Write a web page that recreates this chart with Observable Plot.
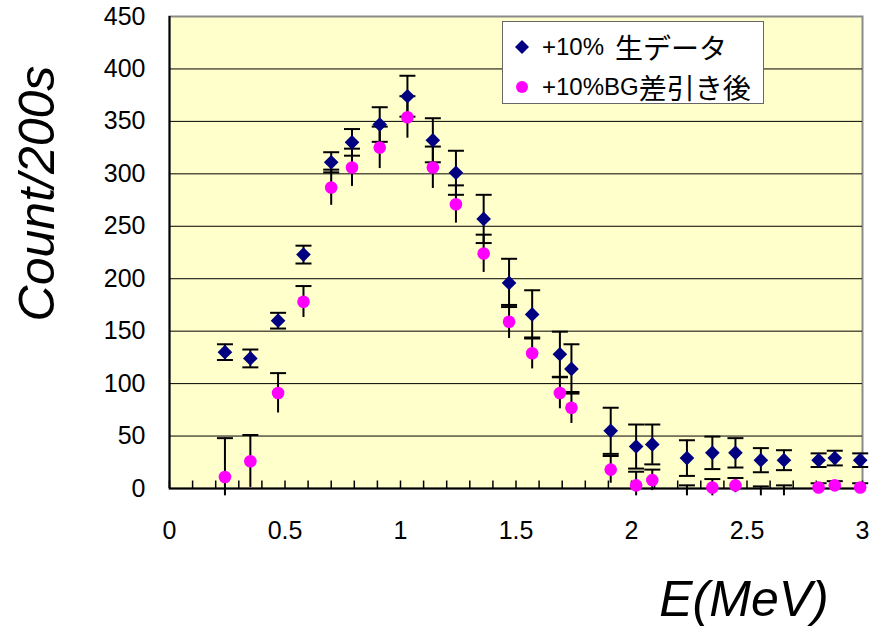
<!DOCTYPE html>
<html>
<head>
<meta charset="utf-8">
<script src="https://cdn.jsdelivr.net/npm/d3@7"></script>
<script src="https://cdn.jsdelivr.net/npm/@observablehq/plot@0.6"></script>
<style>
  body { margin: 0; background: #fff; }
  #wrap { position: relative; width: 870px; height: 630px; overflow: hidden; }
  #legend { position: absolute; left: 502px; top: 21px; width: 262px; height: 83px; background: #fff;
            border: 1px solid #666; box-sizing: border-box; }
  .row { position: absolute; left: 0; height: 36px; display: flex; align-items: center; white-space: nowrap; }
  .row svg { position: absolute; left: 9px; top: 8px; }
  .lbl { position: absolute; left: 39px; top: 0; height: 36px; display: flex; align-items: center; white-space: pre; }
  .lat { font-family: "Liberation Sans", Arial, sans-serif; font-size: 24px; }
  .cjk { font-family: "Noto Sans CJK JP", sans-serif; font-size: 28px; }
  .gap { display: inline-block; width: 11px; }
</style>
</head>
<body>
<div id="wrap"></div>
<script>
// ---- data ----
const energy = [0.24, 0.35, 0.47, 0.58, 0.70, 0.79, 0.91, 1.03, 1.14, 1.24, 1.36, 1.47, 1.57,
                1.69, 1.74, 1.91, 2.02, 2.09, 2.24, 2.35, 2.45, 2.56, 2.66, 2.81, 2.88, 2.99];
const rawCounts = [130, 124, 160, 223, 311, 330, 347, 374, 332, 301, 257, 196, 166,
                   128, 114, 55, 40, 42, 29, 34, 34, 27, 27, 27, 29, 27];
const rawErr = [7.5, 8.5, 7.5, 8.5, 9.6, 12.7, 16.5, 19.5, 21, 21, 23, 23, 23,
                21.5, 23.5, 22, 21, 19, 17, 15.5, 14, 11.5, 9.5, 6.5, 7, 6.5];
const subCounts = [11, 26, 91, 178, 287, 306, 325, 354, 306, 271, 224, 159, 129,
                   91, 77, 18, 3, 8, -10, 1, 3, -10, -8, 1, 3, 1];
const subErr = [37, 25, 19, 15, 17, 18, 20, 20, 20, 18, 18, 16, 15,
                15, 15, 13, 13, 10, 13, 8, 7, 12, 11, 4, 4, 4];
const seriesNames = ["+10% 生データ", "+10%BG差引き後"];
const xTicks = [0, 0.5, 1, 1.5, 2, 2.5, 3];
const xMinorTicks = d3.range(0, 31).map(i => i / 10);
const yTicks = [0, 50, 100, 150, 200, 250, 300, 350, 400, 450];
const xTitle = "E(MeV)";
const yTitle = "Count/200s";

const raw = energy.map((x, i) => ({x, y: rawCounts[i], e: rawErr[i]}));
const sub = energy.map((x, i) => ({x, y: subCounts[i], e: subErr[i]}));

const LOW = -7; // error bars stop just below the axis, as in the reference
const hCap = {draw(ctx, size) { const w = Math.sqrt(size / Math.PI); ctx.moveTo(-w, 0); ctx.lineTo(w, 0); }};
const vTick = {draw(ctx, size) { const h = Math.sqrt(size / Math.PI); ctx.moveTo(0, 0); ctx.lineTo(0, -h); }};

const chart = Plot.plot({
  width: 870,
  height: 630,
  marginLeft: 169,
  marginRight: 8,
  marginTop: 16,
  marginBottom: 142,
  style: {fontFamily: "'Liberation Sans', Arial, sans-serif", fontSize: "25px", color: "#000", background: "#fff"},
  x: {domain: [0, 3], ticks: xTicks, tickSize: 0, tickPadding: 33, tickFormat: d => String(d), label: null},
  y: {domain: [0, 450], ticks: yTicks, tickSize: 0, tickPadding: 24, label: null},
  marks: [
    Plot.frame({fill: "#FFFFCC", stroke: "#8a8a8a", strokeWidth: 2}),
    Plot.ruleY(yTicks.filter(v => v > 0 && v < 450), {stroke: "#000", strokeWidth: 1}),
    Plot.ruleX([0], {stroke: "#000", strokeWidth: 2}),
    Plot.ruleY([0], {stroke: "#000", strokeWidth: 2}),
    Plot.dot(xMinorTicks, {x: d => d, y: 0, symbol: vTick, r: 8, stroke: "#000", strokeWidth: 1.5, fill: "none"}),
    // error bars, raw data
    Plot.ruleX(raw, {x: "x", y1: d => Math.max(d.y - d.e, LOW), y2: d => d.y + d.e, stroke: "#000", strokeWidth: 2}),
    Plot.dot(raw, {x: "x", y: d => d.y + d.e, symbol: hCap, r: 8, stroke: "#000", strokeWidth: 2, fill: "none"}),
    Plot.dot(raw, {x: "x", y: d => d.y - d.e, symbol: hCap, r: 8, stroke: "#000", strokeWidth: 2, fill: "none"}),
    // error bars, BG-subtracted
    Plot.ruleX(sub, {x: "x", y1: d => Math.max(d.y - d.e, LOW), y2: d => d.y + d.e, stroke: "#000", strokeWidth: 2}),
    Plot.dot(sub, {x: "x", y: d => d.y + d.e, symbol: hCap, r: 8, stroke: "#000", strokeWidth: 2, fill: "none"}),
    // markers
    Plot.dot(raw, {x: "x", y: "y", symbol: "diamond2", r: 6.6, fill: "#000080", stroke: "none"}),
    Plot.dot(sub, {x: "x", y: "y", filter: d => d.y >= 0, r: 6.3, fill: "#FF00FF", stroke: "none"}),
    // axis titles
    Plot.text([xTitle], {text: d => d, frameAnchor: "bottom", dx: 228, dy: 127, lineAnchor: "bottom",
                         textAnchor: "middle", fontSize: 50, fontStyle: "italic"}),
    Plot.text([yTitle], {text: d => d, frameAnchor: "left", dx: -116, dy: -59, rotate: -90, lineAnchor: "bottom",
                         textAnchor: "middle", fontSize: 50, fontStyle: "italic"})
  ]
});

const wrap = document.getElementById("wrap");
wrap.appendChild(chart);

// legend (HTML overlay)
const legend = document.createElement("div");
legend.id = "legend";
const keys = [
  {lat: "+10%", gap: true, cjk: "生データ", sym: `<path d="M10,3 L17,10 L10,17 L3,10 Z" fill="#000080"/>`},
  {lat: "+10%BG", gap: false, cjk: "差引き後", sym: `<circle cx="10" cy="10" r="6" fill="#FF00FF"/>`}
];
keys.forEach((k, i) => {
  const row = document.createElement("div");
  row.className = "row";
  row.style.top = (i === 0 ? 7 : 47) + "px";
  row.innerHTML = `<svg width="20" height="20">${k.sym}</svg><div class="lbl"><span class="lat">${k.lat}</span>${k.gap ? '<span class="gap"></span>' : ''}<span class="cjk">${k.cjk}</span></div>`;
  legend.appendChild(row);
});
wrap.appendChild(legend);
</script>
</body>
</html>
